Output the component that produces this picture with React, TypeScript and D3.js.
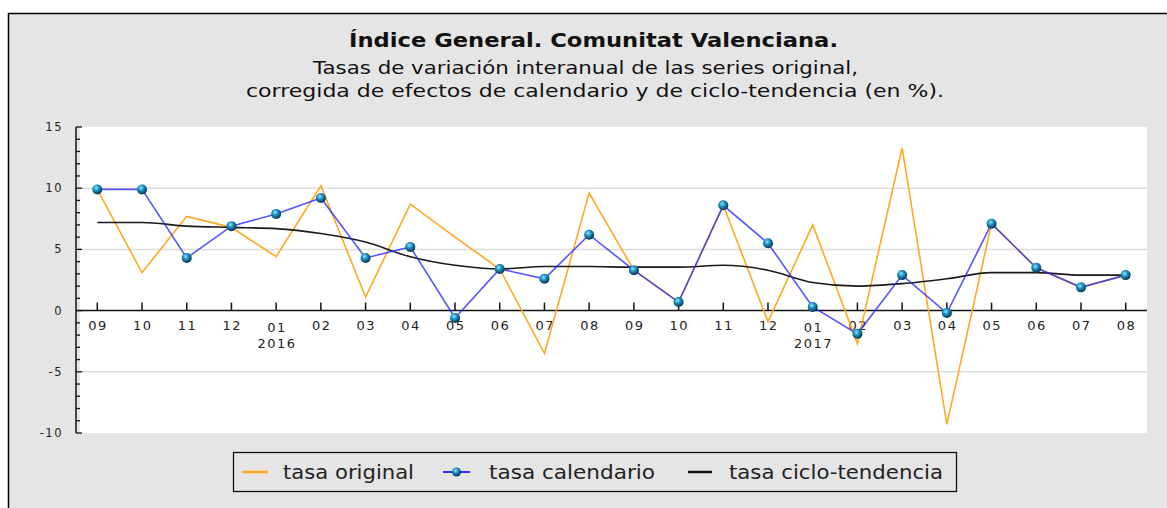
import * as d3 from "d3";

const months = ["09", "10", "11", "12", "01", "02", "03", "04", "05", "06", "07", "08",
  "09", "10", "11", "12", "01", "02", "03", "04", "05", "06", "07", "08"];
const years: Record<number, string> = { 4: "2016", 16: "2017" };

const tasaOriginal = [9.9, 3.1, 7.7, 6.8, 4.4, 10.2, 1.1, 8.7, 6.0, 3.4, -3.5, 9.6,
  3.3, 0.7, 8.6, -0.9, 7.0, -2.7, 13.3, -9.3, 7.1, 3.5, 1.9, 2.9];
const tasaCalendario = [9.9, 9.9, 4.3, 6.9, 7.9, 9.2, 4.3, 5.2, -0.6, 3.4, 2.6, 6.2,
  3.3, 0.7, 8.6, 5.5, 0.3, -1.9, 2.9, -0.2, 7.1, 3.5, 1.9, 2.9];
const tasaTendencia = [7.2, 7.2, 6.9, 6.8, 6.7, 6.3, 5.6, 4.4, 3.7, 3.4, 3.6, 3.6,
  3.55, 3.55, 3.7, 3.3, 2.3, 2.0, 2.2, 2.6, 3.1, 3.1, 2.9, 2.9];

const yTicks = [15, 10, 5, 0, -5, -10];
const yGrid = [10, 5, -5];

const FONT = "DejaVu Sans, Verdana, sans-serif";

export default function App() {
  const W = 1167, H = 508;
  const plot = { left: 76, right: 1147, top: 127, bottom: 433 };

  const x = d3.scaleLinear().domain([0, months.length - 1]).range([97.3, 1125.7]);
  const y = d3.scaleLinear().domain([-10, 15]).range([plot.bottom, plot.top]);

  const straight = d3.line<number>().x((_, i) => x(i)).y((d) => y(d));
  const smooth = d3.line<number>().x((_, i) => x(i)).y((d) => y(d)).curve(d3.curveMonotoneX);

  const minor = d3.range(-10, 16, 1);

  return (
    <svg width={W} height={H} style={{ position: "absolute", left: 0, top: 0 }}>
      <defs>
        <radialGradient id="ball" cx="0.4" cy="0.35" r="0.65">
          <stop offset="0" stopColor="#8fe6ff" />
          <stop offset="0.45" stopColor="#1a8fbf" />
          <stop offset="1" stopColor="#06324a" />
        </radialGradient>
      </defs>
      <rect x={0} y={0} width={W} height={H} fill="#fff" />
      <rect x={8.5} y={13.5} width={1180} height={520} fill="#e5e5e5" stroke="#000" strokeWidth={1.5} />

      {/* titles */}
      <text x={349} y={47} textLength={489} lengthAdjust="spacingAndGlyphs" fontFamily={FONT} fontWeight="bold"
        fontSize={19.5} fill="#111">
        Índice General. Comunitat Valenciana.
      </text>
      <text x={313} y={74} textLength={545} lengthAdjust="spacingAndGlyphs" fontFamily={FONT} fontSize={17.5} fill="#111">
        Tasas de variación interanual de las series original,
      </text>
      <text x={246} y={97} textLength={698} lengthAdjust="spacingAndGlyphs" fontFamily={FONT} fontSize={17.5} fill="#111">
        corregida de efectos de calendario y de ciclo-tendencia (en %).
      </text>

      {/* plot background */}
      <rect x={80} y={plot.top} width={plot.right - 80} height={plot.bottom - plot.top} fill="#fff" />
      {yGrid.map((v) => (
        <line key={v} x1={80} x2={plot.right} y1={y(v)} y2={y(v)} stroke="#dcdcdc" strokeWidth={1.5} />
      ))}

      {/* y axis */}
      <line x1={plot.left} x2={plot.left} y1={plot.top} y2={plot.bottom} stroke="#111" strokeWidth={1.5} />
      {minor.map((v) => (
        <line key={v} x1={plot.left} x2={plot.left + (v % 5 === 0 ? 6 : 4)} y1={y(v)} y2={y(v)}
          stroke="#111" strokeWidth={1.3} />
      ))}
      {yTicks.map((v) => (
        <text key={v} x={63} y={y(v)} dy="0.35em" textAnchor="end" fontFamily={FONT} fontSize={11.5}
          letterSpacing={1.5} fill="#222">
          {v}
        </text>
      ))}

      {/* x axis */}
      <line x1={plot.left} x2={plot.right} y1={y(0)} y2={y(0)} stroke="#111" strokeWidth={1.5} />
      {months.map((m, i) => (
        <g key={i}>
          <line x1={x(i)} x2={x(i)} y1={y(0)} y2={y(0) - 8} stroke="#111" strokeWidth={1.5} />
          <text x={x(i) + 0.8} y={y(0) + (years[i] ? 17 : 15)} dy="0.35em" textAnchor="middle"
            fontFamily={FONT} fontSize={13} letterSpacing={1.5} fill="#222">
            {m}
          </text>
          {years[i] && (
            <text x={x(i) + 0.8} y={y(0) + 33} dy="0.35em" textAnchor="middle"
              fontFamily={FONT} fontSize={13} letterSpacing={1.5} fill="#222">
              {years[i]}
            </text>
          )}
        </g>
      ))}

      {/* series */}
      <path d={straight(tasaOriginal) ?? ""} fill="none" stroke="#ffa820" strokeWidth={1.6} />
      <path d={smooth(tasaTendencia) ?? ""} fill="none" stroke="#1a1a1a" strokeWidth={1.6} />
      <path d={straight(tasaCalendario) ?? ""} fill="none" stroke="#2a2aff" strokeOpacity={0.8} strokeWidth={1.6} />
      {tasaCalendario.map((v, i) => (
        <circle key={i} cx={x(i)} cy={y(v)} r={5} fill="url(#ball)" />
      ))}

      {/* legend */}
      <rect x={233.5} y={452.5} width={723} height={39} fill="#e5e5e5" stroke="#111" strokeWidth={1.3} />
      <line x1={242} x2={268} y1={472} y2={472} stroke="#ffa820" strokeWidth={2.5} />
      <text x={283} y={472} dy="0.35em" textLength={131} lengthAdjust="spacingAndGlyphs" fontFamily={FONT}
        fontSize={20} fill="#222">tasa original</text>
      <line x1={443} x2={470} y1={472} y2={472} stroke="#3030ff" strokeWidth={2} />
      <circle cx={456.5} cy={472} r={4.5} fill="url(#ball)" />
      <text x={489} y={472} dy="0.35em" textLength={166} lengthAdjust="spacingAndGlyphs" fontFamily={FONT}
        fontSize={20} fill="#222">tasa calendario</text>
      <line x1={688} x2={712} y1={472} y2={472} stroke="#111" strokeWidth={2.5} />
      <text x={729} y={472} dy="0.35em" textLength={214} lengthAdjust="spacingAndGlyphs" fontFamily={FONT}
        fontSize={20} fill="#222">tasa ciclo-tendencia</text>
    </svg>
  );
}
